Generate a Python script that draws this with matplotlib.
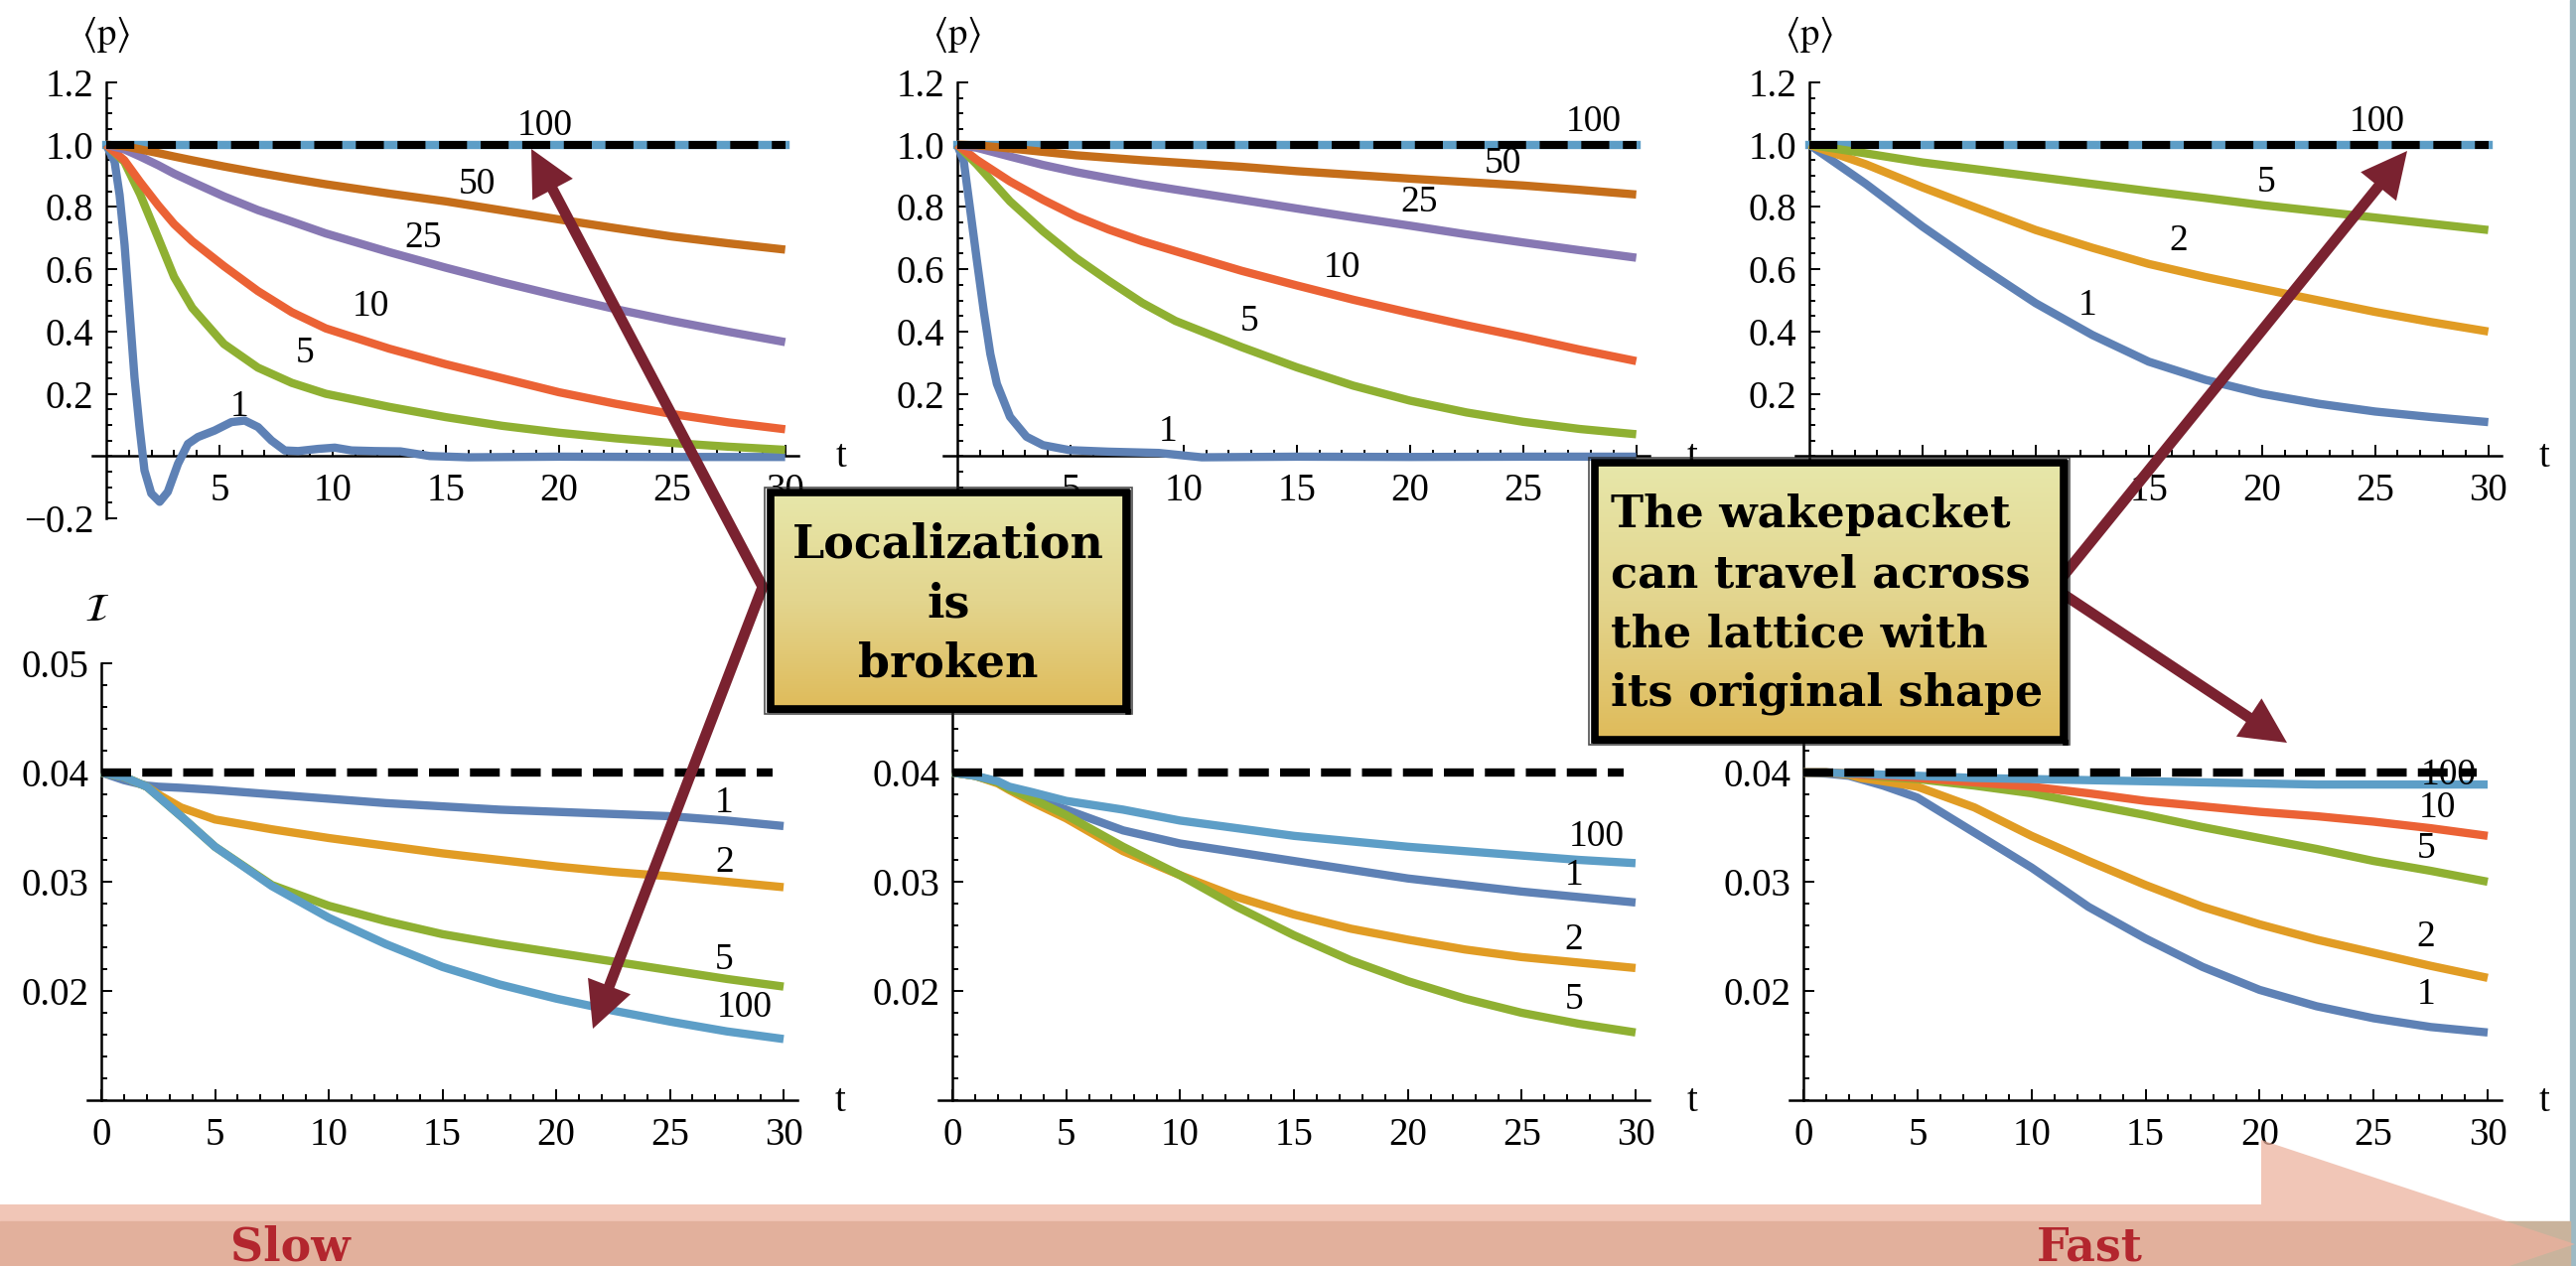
import numpy as np
import matplotlib
matplotlib.use("Agg")
import matplotlib.pyplot as plt
from matplotlib.colors import LinearSegmentedColormap
from matplotlib.patches import Polygon, Rectangle

W, H = 2594, 1275

plt.rcParams["font.family"] = ["Liberation Serif", "DejaVu Serif"]
plt.rcParams["mathtext.fontset"] = "stix"

# curve colours, keyed by the parameter written next to each curve
COLORS = {1: "#5E81B5", 2: "#E19C24", 5: "#8FB032", 10: "#EB6235",
          25: "#8778B3", 50: "#C56E1A", 100: "#5D9EC7"}
ARROW = "#7A2230"

# ---------------- <p>(t), left column ----------------
t_pl = [0, 0.8, 1.5, 2.3, 3.0, 3.8, 5.2, 6.7, 8.2, 9.7, 12.5, 15, 17.5, 20, 22.5, 25, 27.5, 30]
p_l_50 = [1.0, 0.995, 0.985, 0.973, 0.962, 0.95, 0.93, 0.91, 0.891, 0.873, 0.843, 0.818, 0.789, 0.76, 0.732, 0.705, 0.683, 0.663]
p_l_25 = [1.0, 0.985, 0.962, 0.934, 0.907, 0.88, 0.834, 0.79, 0.753, 0.715, 0.655, 0.605, 0.558, 0.514, 0.472, 0.434, 0.399, 0.366]
p_l_10 = [1.0, 0.95, 0.88, 0.805, 0.745, 0.69, 0.61, 0.53, 0.462, 0.41, 0.345, 0.295, 0.25, 0.205, 0.168, 0.135, 0.108, 0.086]
p_l_5 = [1.0, 0.945, 0.84, 0.70, 0.575, 0.476, 0.36, 0.284, 0.235, 0.2, 0.158, 0.125, 0.097, 0.075, 0.057, 0.042, 0.03, 0.02]
t_pl_1 = [0, 0.37, 0.59, 0.81, 1.03, 1.25, 1.47, 1.69, 1.99, 2.36, 2.72, 3.17, 3.61, 4.05, 4.79,
          5.53, 6.12, 6.71, 7.30, 7.89, 8.48, 9.36, 10.1, 10.84, 11.87, 13.0, 14.3, 16, 20, 25, 30]
p_l_1 = [1.0, 0.945, 0.839, 0.679, 0.466, 0.252, 0.093, -0.046, -0.12, -0.147, -0.115, -0.025, 0.039, 0.061, 0.082,
         0.109, 0.114, 0.093, 0.05, 0.018, 0.016, 0.023, 0.027, 0.018, 0.016, 0.015, 0.0, -0.004, -0.002, -0.003, -0.003]
t_flat = [0, 30]
p_flat = [1.0, 1.0]

# ---------------- <p>(t), middle column ----------------
t_pm = [0, 0.87, 2.33, 3.79, 5.25, 6.71, 8.17, 9.64, 12.56, 15, 17.5, 20, 22.5, 25, 27.5, 30]
p_m_50 = [1.0, 0.998, 0.988, 0.977, 0.966, 0.958, 0.95, 0.943, 0.929, 0.915, 0.903, 0.891, 0.88, 0.869, 0.855, 0.84]
p_m_25 = [1.0, 0.99, 0.962, 0.935, 0.912, 0.892, 0.873, 0.856, 0.823, 0.795, 0.767, 0.74, 0.712, 0.686, 0.661, 0.637]
p_m_10 = [1.0, 0.951, 0.882, 0.823, 0.77, 0.727, 0.69, 0.658, 0.595, 0.548, 0.502, 0.46, 0.42, 0.382, 0.342, 0.305]
p_m_5 = [1.0, 0.936, 0.818, 0.722, 0.636, 0.562, 0.492, 0.434, 0.35, 0.285, 0.226, 0.178, 0.14, 0.11, 0.087, 0.07]
t_pm_1 = [0, 0.29, 0.58, 0.87, 1.17, 1.46, 1.75, 2.33, 3.06, 3.79, 4.96, 6.7, 8.9, 10.8, 15, 20, 25, 30]
p_m_1 = [1.0, 0.945, 0.786, 0.626, 0.466, 0.328, 0.232, 0.126, 0.062, 0.035, 0.019, 0.014, 0.01, -0.004, -0.002, -0.003, -0.002, -0.002]

# ---------------- <p>(t), right column ----------------
t_pr = [0, 2.5, 5, 7.5, 10, 12.5, 15, 17.5, 20, 22.5, 25, 27.5, 30]
p_r_5 = [1.0, 0.972, 0.943, 0.92, 0.897, 0.874, 0.851, 0.829, 0.806, 0.786, 0.766, 0.746, 0.726]
p_r_2 = [1.0, 0.937, 0.863, 0.794, 0.726, 0.669, 0.617, 0.575, 0.537, 0.5, 0.463, 0.43, 0.4]
p_r_1 = [1.0, 0.874, 0.737, 0.611, 0.491, 0.389, 0.303, 0.245, 0.2, 0.168, 0.143, 0.125, 0.109]

# ---------------- I(t), all columns ----------------
t_i = [0, 1, 2, 2.5, 3.5, 5, 7.5, 10, 12.5, 15, 17.5, 20, 22.5, 25, 27.5, 30]
i_l_100 = [0.04, 0.0396, 0.0387, 0.0378, 0.036, 0.0332, 0.0296, 0.0267, 0.0243, 0.0222, 0.0206, 0.0193, 0.0182, 0.0172, 0.0163, 0.0156]
i_l_5 = [0.04, 0.0396, 0.0387, 0.0378, 0.036, 0.0332, 0.0297, 0.0278, 0.0264, 0.0252, 0.0243, 0.0235, 0.0227, 0.0219, 0.0211, 0.0204]
i_l_2 = [0.04, 0.0396, 0.0387, 0.038, 0.0368, 0.0357, 0.0348, 0.034, 0.0333, 0.0326, 0.032, 0.0314, 0.0309, 0.0305, 0.03, 0.0295]
i_l_1 = [0.04, 0.0393, 0.0388, 0.0387, 0.0386, 0.0384, 0.038, 0.0376, 0.0372, 0.0369, 0.0366, 0.0364, 0.0362, 0.036, 0.0356, 0.0351]

i_m_100 = [0.04, 0.0397, 0.0392, 0.0387, 0.0382, 0.0374, 0.0366, 0.0356, 0.0349, 0.0342, 0.0337, 0.0332, 0.0328, 0.0324, 0.032, 0.0317]
i_m_1 = [0.04, 0.0397, 0.0391, 0.0385, 0.0377, 0.0366, 0.0347, 0.0335, 0.0327, 0.0319, 0.0311, 0.0303, 0.0297, 0.0291, 0.0286, 0.0281]
i_m_2 = [0.04, 0.0397, 0.039, 0.0384, 0.0373, 0.0358, 0.0328, 0.0306, 0.0286, 0.027, 0.0257, 0.0247, 0.0238, 0.0231, 0.0226, 0.0221]
i_m_5 = [0.04, 0.0397, 0.0391, 0.0385, 0.0376, 0.0361, 0.0332, 0.0306, 0.0277, 0.0251, 0.0228, 0.0209, 0.0193, 0.018, 0.017, 0.0162]

i_r_100 = [0.04, 0.04, 0.0399, 0.0399, 0.0398, 0.0397, 0.0395, 0.0394, 0.0393, 0.0392, 0.0391, 0.039, 0.0389, 0.0389, 0.0389, 0.0389]
i_r_10 = [0.04, 0.04, 0.0399, 0.0398, 0.0397, 0.0395, 0.0391, 0.0387, 0.0381, 0.0374, 0.0369, 0.0364, 0.036, 0.0355, 0.0349, 0.0342]
i_r_5 = [0.04, 0.04, 0.0399, 0.0398, 0.0396, 0.0394, 0.0388, 0.0381, 0.0371, 0.0361, 0.035, 0.034, 0.033, 0.0319, 0.031, 0.03]
i_r_2 = [0.04, 0.04, 0.0398, 0.0395, 0.0392, 0.0387, 0.0368, 0.0342, 0.0319, 0.0297, 0.0277, 0.0261, 0.0247, 0.0235, 0.0223, 0.0212]
i_r_1 = [0.04, 0.0399, 0.0397, 0.0394, 0.0388, 0.0377, 0.0345, 0.0313, 0.0277, 0.0248, 0.0222, 0.0201, 0.0186, 0.0175, 0.0167, 0.0162]
t_ref = [0, 29.5]
i_ref = [0.04, 0.04]

# curve labels: (text, t, value)
lab_pl = [("100", 19.4, 1.074), ("50", 16.4, 0.886), ("25", 14.0, 0.714),
          ("10", 11.7, 0.492), ("5", 8.8, 0.343), ("1", 5.9, 0.171)]
lab_pm = [("100", 28.1, 1.086), ("50", 24.1, 0.952), ("25", 20.4, 0.829),
          ("10", 17.0, 0.617), ("5", 12.9, 0.446), ("1", 9.3, 0.091)]
lab_pr = [("100", 25.1, 1.086), ("5", 20.2, 0.891), ("2", 16.3, 0.703), ("1", 12.3, 0.497)]
lab_il = [("1", 27.4, 0.0376), ("2", 27.4, 0.0321), ("5", 27.4, 0.0232), ("100", 28.3, 0.0188)]
lab_im = [("100", 28.3, 0.0345), ("1", 27.3, 0.0309), ("2", 27.3, 0.025), ("5", 27.3, 0.0196)]
lab_ir = [("100", 28.3, 0.0401), ("10", 27.8, 0.0371), ("5", 27.3, 0.0334),
          ("2", 27.3, 0.0253), ("1", 27.3, 0.02)]

p_ticks = [-0.2, 0.2, 0.4, 0.6, 0.8, 1.0, 1.2]
p_ticklabels = ["\u22120.2", "0.2", "0.4", "0.6", "0.8", "1.0", "1.2"]
i_ticks = [0.02, 0.03, 0.04, 0.05]
i_ticklabels = ["0.02", "0.03", "0.04", "0.05"]

LW = 6.0


def px_axes(fig, left, top, width, height):
    return fig.add_axes([left / W, 1 - (top + height) / H, width / W, height / H])


def style_axes(ax, ylim, cross, yticks, ylabels, yminor, xticks):
    ax.set_xlim(-0.6, 30.6)
    ax.set_ylim(*ylim)
    ax.patch.set_alpha(0)
    for s in ("top", "right"):
        ax.spines[s].set_visible(False)
    ax.spines["left"].set_position(("data", 0))
    ax.spines["bottom"].set_position(("data", cross))
    for s in ("left", "bottom"):
        ax.spines[s].set_linewidth(1.8)
    ax.set_xticks(xticks)
    ax.set_xticklabels([str(v) for v in xticks])
    ax.set_xticks(range(1, 31), minor=True)
    ax.set_yticks(yticks)
    ax.set_yticklabels(ylabels)
    ax.set_yticks(yminor, minor=True)
    ax.tick_params(which="both", direction="in", width=1.4, labelsize=28)
    ax.tick_params(which="major", length=8)
    ax.tick_params(which="minor", length=4.5)
    ax.tick_params(axis="x", pad=12)
    ax.tick_params(axis="y", pad=9)
    ax.annotate("t", xy=(30.6, cross), xytext=(27, -8), textcoords="offset points",
                fontsize=28, ha="left", va="baseline", annotation_clip=False)


def put_labels(ax, labels):
    for txt, x, y in labels:
        ax.text(x, y, txt, fontsize=27, ha="center", va="center_baseline", zorder=6)


def p_panel(fig, left, curves, labels):
    ax = px_axes(fig, left, 83, 711, 439)
    style_axes(ax, (-0.2, 1.2), 0, p_ticks, p_ticklabels,
               np.arange(-0.2, 1.2001, 0.05), [5, 10, 15, 20, 25, 30])
    ax.plot(t_flat, p_flat, color=COLORS[100], lw=LW, zorder=3)
    for key, t, v in curves:
        ax.plot(t, v, color=COLORS[key], lw=LW, solid_capstyle="butt",
                solid_joinstyle="round", zorder=3)
    ax.plot(t_flat, p_flat, color="black", lw=5.8, ls=(0, (3.5, 1.7)), zorder=4)
    put_labels(ax, labels)
    ax.annotate(r"$\langle\mathrm{p}\rangle$", xy=(0, 1.2), xytext=(0, 34),
                textcoords="offset points", fontsize=28, ha="center", va="center",
                annotation_clip=False)
    return ax


def i_panel(fig, left, width, curves, labels):
    ax = px_axes(fig, left, 668, width, 440)
    style_axes(ax, (0.01, 0.05), 0.01, i_ticks, i_ticklabels,
               np.arange(0.01, 0.0501, 0.002), [0, 5, 10, 15, 20, 25, 30])
    for key, t, v in curves:
        ax.plot(t, v, color=COLORS[key], lw=LW, solid_capstyle="butt",
                solid_joinstyle="round", zorder=3)
    ax.plot(t_ref, i_ref, color="black", lw=6.0, ls=(0, (3.6, 1.35)), zorder=4)
    put_labels(ax, labels)
    ax.annotate(r"$\mathcal{I}$", xy=(0, 0.05), xytext=(-3, 38),
                textcoords="offset points", fontsize=28, ha="center", va="center",
                annotation_clip=False)
    return ax


fig = plt.figure(figsize=(W / 100, H / 100), dpi=100)
fig.patch.set_facecolor("white")

p_panel(fig, 93.3, [(1, t_pl_1, p_l_1), (5, t_pl, p_l_5), (10, t_pl, p_l_10),
                    (25, t_pl, p_l_25), (50, t_pl, p_l_50)], lab_pl)
p_panel(fig, 950.3, [(1, t_pm_1, p_m_1), (5, t_pm, p_m_5), (10, t_pm, p_m_10),
                     (25, t_pm, p_m_25), (50, t_pm, p_m_50)], lab_pm)
p_panel(fig, 1808.3, [(1, t_pr, p_r_1), (2, t_pr, p_r_2), (5, t_pr, p_r_5)], lab_pr)

i_panel(fig, 88.3, 714.5, [(1, t_i, i_l_1), (2, t_i, i_l_2), (5, t_i, i_l_5),
                           (100, t_i, i_l_100)], lab_il)
i_panel(fig, 945.2, 715.5, [(1, t_i, i_m_1), (2, t_i, i_m_2), (5, t_i, i_m_5),
                            (100, t_i, i_m_100)], lab_im)
i_panel(fig, 1802.2, 716.6, [(1, t_i, i_r_1), (2, t_i, i_r_2), (5, t_i, i_r_5),
                             (10, t_i, i_r_10), (100, t_i, i_r_100)], lab_ir)

# ---------------- overlay in pixel coordinates ----------------
ov = fig.add_axes([0, 0, 1, 1], zorder=10)
ov.patch.set_alpha(0)
ov.axis("off")

# slide background showing at the right and bottom edges
ov.add_patch(Rectangle((2588, 0), W - 2588, H, color="#9DB9C3", zorder=0))
ov.add_patch(Rectangle((0, 1230), 2588, H - 1230, color="#C9B39C", zorder=0))


def bent_arrow(tip_a, vertex, tip_b, lw=7.8, head_len=46, head_w=46):
    vertex = np.asarray(vertex, float)
    bases = []
    for tip in (tip_a, tip_b):
        tip = np.asarray(tip, float)
        u = (tip - vertex) / np.hypot(*(tip - vertex))
        n = np.array([-u[1], u[0]])
        base = tip - u * head_len
        bases.append(base + u * 4)
        ov.add_patch(Polygon([tip, base + n * head_w / 2, base - n * head_w / 2],
                             closed=True, color=ARROW, lw=0, zorder=4))
    xs = [bases[0][0], vertex[0], bases[1][0]]
    ys = [bases[0][1], vertex[1], bases[1][1]]
    ov.plot(xs, ys, color=ARROW, lw=lw, solid_joinstyle="miter",
            solid_capstyle="butt", zorder=4)


bent_arrow((535, 150), (768, 591), (597, 1036))
bent_arrow((2424, 152), (2068, 592), (2303, 748))

note_cmap = LinearSegmentedColormap.from_list("note", ["#E7E7AA", "#E3D58E", "#DFBB5A"])
grad = np.linspace(0, 1, 256)[:, None]


def note_box(x0, y0, x1, y1):
    ov.imshow(grad, cmap=note_cmap, extent=(x0, x1, y1, y0), aspect="auto",
              interpolation="bilinear", zorder=5)
    ov.add_patch(Rectangle((x0, y0), x1 - x0, y1 - y0, fill=False, ec="black",
                           lw=5.5, joinstyle="miter", zorder=6))
    ov.add_patch(Rectangle((x0 - 6, y0 - 5), x1 - x0 + 12, y1 - y0 + 10, fill=False,
                           ec="#222222", lw=1.2, alpha=0.8, zorder=6))
    ov.plot([x1 + 2, x1 + 2], [y0, y1 + 3], color="black", lw=4, zorder=6)
    ov.plot([x0, x1 + 3], [y1 + 2, y1 + 2], color="black", lw=3, zorder=6)


note_box(776, 496, 1134, 714)
for line, yb in zip(["Localization", "is", "broken"], [562, 622, 682]):
    ov.text(955, yb, line, fontsize=33, fontfamily="DejaVu Serif", fontweight="bold",
            ha="center", va="baseline", zorder=7)

note_box(1606, 466, 2078, 745)
for line, yb in zip(["The wakepacket", "can travel across", "the lattice with",
                     "its original shape"], [531, 591, 651, 711]):
    ov.text(1622, yb, line, fontsize=32, fontfamily="DejaVu Serif", fontweight="bold",
            ha="left", va="baseline", zorder=7)

# direction banner along the bottom
ov.add_patch(Polygon([(0, 1213), (2277, 1213), (2277, 1148), (2593, 1253),
                      (2277, 1358), (0, 1358)], closed=True, color="#ECB09C",
                     alpha=0.72, lw=0, zorder=8))
ov.text(232, 1270, "Slow", fontsize=33, fontfamily="DejaVu Serif", fontweight="bold",
        color="#B3262E", ha="left", va="baseline", zorder=9)
ov.text(2051, 1270, "Fast", fontsize=33, fontfamily="DejaVu Serif", fontweight="bold",
        color="#B3262E", ha="left", va="baseline", zorder=9)

ov.set_xlim(0, W)
ov.set_ylim(H, 0)

fig.savefig("out.png", dpi=100)
